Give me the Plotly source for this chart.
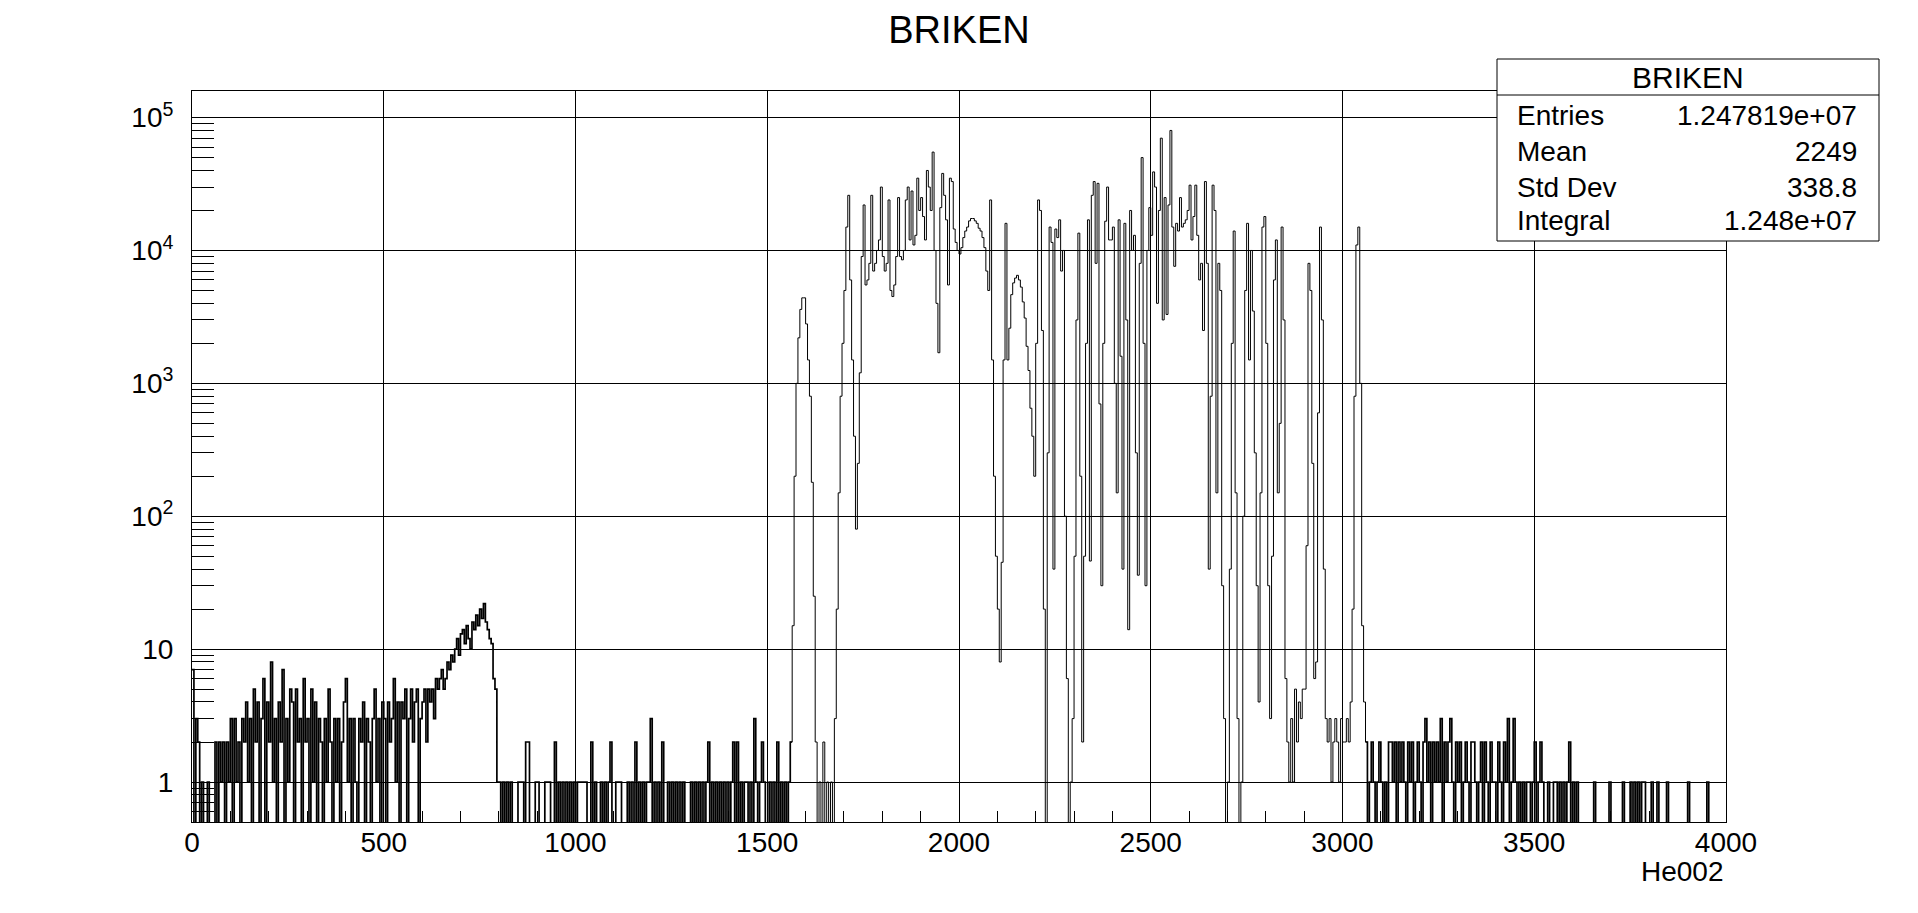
import numpy as np
import plotly.graph_objects as go

# ---------------- data (counts per 5-channel bin) ----------------
BIN_WIDTH = 5
X_MIN, X_MAX = 0, 4000

counts_0_800 = [
    7, 0, 3, 2,
    0, 1, 0, 0, 1, 0, 0, 0,
    2, 0, 2, 1, 2, 0, 2, 1,
    3, 0, 3, 1, 2, 0, 3, 2,
    4, 1, 3, 0, 5, 2, 4, 0,
    3, 6, 0, 4, 2, 8, 1, 3,
    0, 4, 2, 7, 0, 3, 1, 5,
    4, 0, 5, 2, 3, 0, 6, 2,
    3, 0, 5, 1, 4, 0, 3, 2,
    0, 3, 1, 5, 2, 0, 3, 1,
    3, 0, 2, 4, 6, 1, 3, 0,
    3, 1, 0, 3, 2, 4, 0, 3,
    2, 0, 3, 5, 1, 3, 0, 4,
    3, 0, 4, 2, 3, 6, 1, 4,
    0, 4, 3, 5, 0, 3, 5, 2,
    4, 5, 0, 3, 4, 5, 2, 5,
    4, 5, 3, 6, 5, 6, 7, 5,
    6, 8, 7, 9, 8, 10, 12, 9,
    13, 14, 11, 15, 12, 10, 16, 14,
    18, 15, 20, 17, 22, 16, 14, 12,
    11, 6, 5, 1,
]

counts_800_1500 = [
    1, 0, 1, 0, 1, 0, 1,
    0, 0, 0, 1, 1, 1, 0, 2, 2, 0, 0, 0, 1, 1, 0, 0, 0, 1, 1, 1, 0, 0,
    2, 0, 1, 0, 1, 0, 1, 0, 1, 0, 1, 0, 1,
    1, 1, 1, 1, 0, 0,
    2, 0, 1, 0, 0,
    1, 0, 1, 0, 1, 2,
    0, 0, 1, 1, 1, 0, 0, 0,
    1, 0, 1, 0, 2, 0, 1, 0, 1, 0, 1, 1, 3, 0, 1, 0, 1, 0, 2,
    0, 0,
    1, 0, 1, 0, 1, 0, 1, 0, 1, 0,
    0, 0,
    1, 0, 1, 0, 1, 0, 1, 0, 1, 2,
    0, 1, 0, 1, 0, 1, 0, 1, 0, 1, 0, 1, 2, 0, 2, 0, 1, 0, 1,
    1, 0, 1, 0, 3, 1, 0, 1, 2, 1, 0,
]

counts_1500_3100 = [
    # 1500-1600
    0, 1, 0, 1, 0, 2, 0, 1, 0, 1, 0, 1, 2, 15, 200, 1000, 2200, 3600, 4400, 4400,
    # 1600-1700
    2800, 1500, 800, 180, 25, 2, 0, 1, 0, 2, 0, 1, 0, 1, 0, 3, 20, 150, 800, 2000,
    # 1700-1800
    5000, 15000, 26000, 6000, 1500, 400, 80, 250, 1200, 9000,
    22000, 5500, 6000, 8000, 26000, 7000, 8000, 10000, 12000, 30000,
    # 1800-1900
    9000, 7000, 8000, 24000, 5000, 4500, 5500, 9000, 25000, 9000,
    8500, 10000, 24000, 30000, 12000, 28000, 11000, 13000, 35000, 20000,
    # 1900-2000
    25000, 18000, 12000, 40000, 30000, 20000, 55000, 10000, 4000, 1700,
    21000, 38000, 26000, 17000, 5500, 35000, 33000, 14500, 11500, 10000,
    # 2000-2100
    9400, 10500, 12500, 14000, 15000, 16700, 17400, 17400, 16700, 16000,
    14700, 14000, 12500, 10500, 7000, 5000, 24000, 1500, 200, 50,
    # 2100-2200
    20, 8, 45, 1500, 16000, 1500, 2600, 4650, 5700, 6200,
    6500, 6000, 5300, 4100, 3100, 1900, 1250, 650, 400, 200,
    # 2200-2300
    2000, 24000, 20000, 2500, 20, 0, 300, 15000, 11500, 40,
    14500, 12500, 17000, 7000, 10000, 100, 6, 0, 1, 3,
    # 2300-2400
    50, 3000, 13500, 200, 2, 50, 2000, 17000, 46, 26000,
    33000, 8000, 32000, 700, 30, 2000, 16600, 30000, 12000, 12000,
    # 2400-2500
    15000, 1000, 150, 17000, 1600, 40, 16000, 3000, 14, 20000,
    10000, 13000, 300, 36, 8000, 50000, 2000, 30, 10000, 21000,
    # 2500-2600
    13000, 39000, 30000, 4000, 20000, 70000, 3000, 25000, 3300, 22000,
    80000, 15000, 7600, 16000, 14000, 25000, 15000, 16000, 17000, 20000,
    # 2600-2700
    31000, 12000, 18000, 31000, 13000, 6000, 8000, 2500, 33000, 8000,
    40, 800, 31000, 20000, 150, 8000, 5000, 30, 3, 0,
    # 2700-2800
    1, 40, 2000, 14000, 150, 3, 0, 1, 100, 5000,
    16000, 1500, 10000, 3500, 300, 30, 4, 150, 15000, 18000,
    # 2800-2900
    2000, 30, 3, 50, 6000, 12000, 150, 500, 15000, 3000,
    6, 2, 1, 3, 1, 5, 2, 4, 3, 5,
    # 2900-3000
    5, 60, 8000, 5000, 250, 6, 8, 600, 15000, 3000,
    40, 3, 2, 3, 1, 2, 3, 2, 1, 3,
    # 3000-3100
    2, 2, 3, 2, 4, 20, 800, 11000, 15000, 1000,
    15, 4, 2, 0, 1, 2, 1, 0, 1, 2,
]

counts_3100_4000 = [
    1, 0, 1, 0, 2,
    2, 1, 2, 0, 2, 1, 2, 1, 0, 2, 1, 2, 0, 1,
    2, 1, 0, 2, 3, 1, 2, 0, 2, 1, 2, 1, 3, 0, 2, 1, 2, 3, 1,
    0, 2, 1, 2, 0, 1, 2, 1, 0, 2, 2, 1, 0, 1, 2, 0, 2, 1, 0, 2, 1,
    1, 0, 2, 1, 0, 2, 1, 3, 0, 1, 3,
    1, 0, 1, 0, 1, 0, 1,
    1, 0, 1, 2, 0, 1, 2, 1,
    0, 0, 1, 0, 0, 1, 1, 0, 1, 0, 1, 0, 1, 2, 0, 1, 0, 1, 0,
    0, 0, 0, 0, 0, 0, 0, 1, 0, 0,
    0, 0, 0, 0, 0, 1, 0, 0, 0, 0,
    0, 0, 1, 0, 0, 0, 1, 0, 1, 0,
    1, 0, 1, 1, 0, 0, 0, 1, 0, 0,
    1, 0, 0, 0, 0, 1,
    0, 0, 0, 0, 0, 0, 0, 0, 0, 0, 1, 0, 0, 0, 0,
    0, 0, 0, 0, 0, 1, 0, 0, 0, 0, 0, 0, 0, 0, 0,
]

hist_title = "BRIKEN"
x_title = "He002"
stats_name = "BRIKEN"
stats_labels = ["Entries", "Mean", "Std Dev", "Integral"]
stats_values = ["1.247819e+07", "2249", "338.8", "1.248e+07"]

x_tick_values = [0, 500, 1000, 1500, 2000, 2500, 3000, 3500, 4000]
y_tick_values = [1, 10, 100, 1000, 10000, 100000]
y_tick_text = ["1", "10", "10<sup>2</sup>", "10<sup>3</sup>", "10<sup>4</sup>", "10<sup>5</sup>"]

# channel ranges where the spectrum is only a few counts (drawn as dense noise)
LOW_REGIONS = [(0, 1560), (3060, 4000)]

# ---------------- build ----------------
counts = counts_0_800 + counts_800_1500 + counts_1500_3100 + counts_3100_4000
n_bins = len(counts)
edges = X_MIN + BIN_WIDTH * np.arange(n_bins + 1)
# empty bins are drawn down to the frame bottom (ROOT log-scale behaviour)
y_draw = np.array([c if c > 0 else 1e-3 for c in counts], dtype=float)


def segment(i0, i1):
    """step-line points for bins i0..i1-1 (closing at the right edge)."""
    xs = list(edges[i0:i1 + 1])
    ys = list(y_draw[i0:i1]) + [y_draw[i1 - 1]]
    return xs, ys


W, H = 1918, 913
L, R, T, B = 192, 192, 91, 91
PW, PH = W - L - R, H - T - B


def px(xp):
    return (xp - L) / PW


def py(yp):
    return (H - B - yp) / PH


FONT = "Liberation Sans, Arial, Helvetica, sans-serif"

fig = go.Figure()

# split the histogram into low-count parts and the main spectrum
idx_low1_end = int((LOW_REGIONS[0][1] - X_MIN) / BIN_WIDTH)
idx_low2_start = int((LOW_REGIONS[1][0] - X_MIN) / BIN_WIDTH)
parts = [
    (0, idx_low1_end + 1, 1.7),
    (idx_low1_end, idx_low2_start + 1, 1.0),
    (idx_low2_start, n_bins, 1.7),
]
for i0, i1, lw in parts:
    xs, ys = segment(i0, i1)
    fig.add_trace(go.Scatter(
        x=xs, y=ys, mode="lines",
        line=dict(color="black", width=lw, shape="hv"),
        hoverinfo="skip", showlegend=False,
    ))

y_minor = [k * 10 ** n for n in range(-1, 6) for k in range(2, 10)
           if 0.5 <= k * 10 ** n <= 1.58e5]
x_minor = [v for v in range(100, 4000, 100) if v % 500 != 0]

fig.update_layout(
    width=W, height=H,
    margin=dict(l=L, r=R, t=T, b=B, pad=0),
    paper_bgcolor="white", plot_bgcolor="white",
    font=dict(family=FONT, color="black", size=28),
    showlegend=False,
    title=dict(text=hist_title, x=0.5, xref="container", xanchor="center",
               y=1 - 30 / H, yref="container", yanchor="middle",
               font=dict(size=38, family=FONT, color="black")),
    xaxis=dict(
        range=[X_MIN, X_MAX], tickmode="array", tickvals=x_tick_values,
        ticks="inside", ticklen=22, tickcolor="black", tickwidth=1,
        showgrid=True, gridcolor="black", gridwidth=1,
        showline=True, linecolor="black", linewidth=1, mirror=True,
        zeroline=False, tickfont=dict(size=28, family=FONT, color="black"),
        ticklabelstandoff=-5,
        minor=dict(tickmode="array", tickvals=x_minor, ticks="inside",
                   ticklen=11, tickcolor="black", tickwidth=1, showgrid=False),
    ),
    yaxis=dict(
        type="log", range=[np.log10(0.5), 5.2],
        tickmode="array", tickvals=y_tick_values, ticktext=y_tick_text,
        ticks="inside", ticklen=22, tickcolor="black", tickwidth=1,
        showgrid=True, gridcolor="black", gridwidth=1,
        showline=True, linecolor="black", linewidth=1, mirror=True,
        zeroline=False, tickfont=dict(size=28, family=FONT, color="black"),
        ticklabelstandoff=12,
        minor=dict(tickmode="array", tickvals=y_minor, ticks="inside",
                   ticklen=22, tickcolor="black", tickwidth=1, showgrid=False),
    ),
)

# x axis title, right aligned under the frame
fig.add_annotation(text=x_title, xref="paper", yref="paper",
                   x=1.0, y=py(871), xanchor="right", yanchor="middle",
                   showarrow=False, font=dict(size=28, family=FONT, color="black"))

# statistics box
bx0, bx1, by0, by1, bsep = 1497, 1879, 59, 241, 95
fig.add_shape(type="rect", xref="paper", yref="paper",
              x0=px(bx0), x1=px(bx1), y0=py(by1), y1=py(by0),
              line=dict(color="black", width=1), fillcolor="white", layer="above")
fig.add_shape(type="line", xref="paper", yref="paper",
              x0=px(bx0), x1=px(bx1), y0=py(bsep), y1=py(bsep),
              line=dict(color="black", width=1), layer="above")
fig.add_annotation(text=stats_name, xref="paper", yref="paper",
                   x=px((bx0 + bx1) / 2), y=py(77), xanchor="center", yanchor="middle",
                   showarrow=False, font=dict(size=30, family=FONT, color="black"))
row_y = [115, 151, 187, 221]
for lab, val, yy in zip(stats_labels, stats_values, row_y):
    fig.add_annotation(text=lab, xref="paper", yref="paper",
                       x=px(1515), y=py(yy), xanchor="left", yanchor="middle",
                       showarrow=False, font=dict(size=28, family=FONT, color="black"))
    fig.add_annotation(text=val, xref="paper", yref="paper",
                       x=px(1859), y=py(yy), xanchor="right", yanchor="middle",
                       showarrow=False, font=dict(size=28, family=FONT, color="black"))

fig.write_html("out.html",
               config={"displayModeBar": False},
               post_script="document.body.style.margin='0';document.body.style.overflow='hidden';")
